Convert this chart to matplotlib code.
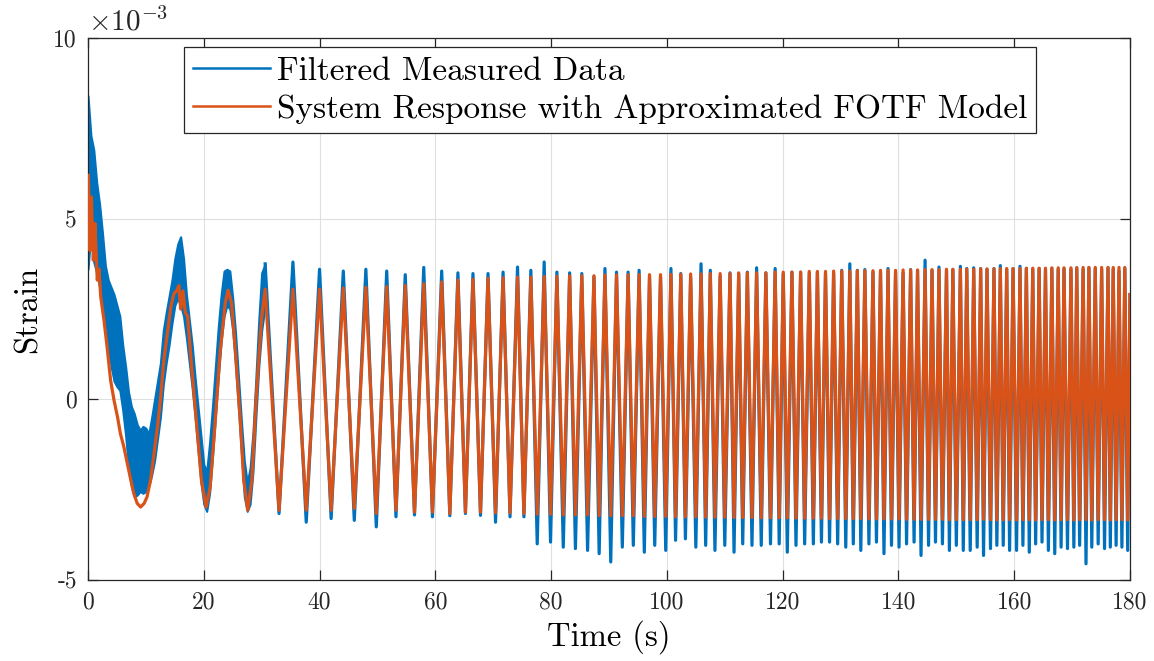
import matplotlib
matplotlib.use("Agg")
import matplotlib.pyplot as plt
import numpy as np

# ---------------- data (strain in units of 1e-3) ----------------
# Early part of the model response (read point by point)
model_early_t = [0.06, 0.35, 0.58, 0.92, 1.2, 1.6, 1.9, 2.2, 2.76, 3.3,
                 3.9, 4.5, 5.1, 5.6, 6.2, 6.8, 7.4, 7.9, 8.5, 9.1,
                 9.7, 10.2, 10.8, 11.4, 12.0, 12.55, 13.1, 13.7, 14.3, 14.85,
                 15.3, 15.7, 16.0, 16.4, 16.8, 17.2, 17.9, 18.8, 19.6, 20.4,
                 21.1, 21.9, 22.8, 23.7, 24.2, 24.8, 25.4, 26.3, 26.9, 27.6,
                 28.3, 29.1, 30.0]
model_early_v = [6.2, 4.12, 5.6, 3.85, 4.87, 3.3, 3.6, 2.83, 2.19, 1.45,
                 0.53, -0.03, -0.49, -0.95, -1.32, -1.78, -2.24, -2.6, -2.88, -2.98,
                 -2.88, -2.7, -2.24, -1.5, -0.77, 0.06, 1.08, 1.82, 2.55, 2.93,
                 3.0, 3.15, 2.5, 3.0, 2.4, 2.3, 0.9, -0.77, -2.24, -2.98,
                 -2.43, -0.77, 1.27, 2.66, 3.02, 2.66, 1.45, -0.58, -2.24, -3.07,
                 -2.24, 0.17, 2.28]

# Early part of the measured data: noisy band (upper / lower edge)
band_t = [0.0, 0.5, 1.0, 1.5, 2.0, 2.5, 3.0, 3.5, 4.0, 4.5,
          5.0, 5.5, 6.0, 6.5, 7.0, 7.5, 8.0, 8.5, 9.0, 9.5,
          10.0, 10.5, 11.0, 11.5, 12.0, 12.5, 13.0, 13.5, 14.0, 14.5,
          15.0, 15.5, 16.0, 16.5, 17.0, 17.5, 18.0, 18.5, 19.0, 19.5,
          20.0, 20.5, 21.0, 21.5, 22.0, 22.5, 23.0, 23.5, 24.0, 24.5,
          25.0, 25.5, 26.0, 26.5, 27.0, 27.5, 28.0, 28.5, 29.0, 29.5,
          30.0, 30.6]
band_hi = [8.4, 7.3, 6.9, 6.0, 5.4, 4.6, 3.7, 3.3, 3.1, 2.9,
           2.6, 2.3, 1.5, 0.9, 0.2, -0.2, -0.4, -0.7, -0.85, -0.75,
           -0.8, -0.95, -0.5, 0.0, 0.5, 1.0, 1.9, 2.4, 2.85, 3.3,
           3.9, 4.3, 4.5, 3.9, 2.9, 2.2, 1.5, 0.6, -0.2, -1.0,
           -1.8, -2.0, -1.2, -0.2, 0.9, 2.0, 2.9, 3.55, 3.6, 3.55,
           2.8, 1.8, 0.6, -0.6, -1.7, -2.3, -1.9, -0.9, 0.6, 2.2,
           3.5, 3.75]
band_lo = [3.6, 4.6, 3.8, 3.5, 3.1, 2.6, 2.0, 1.4, 0.9, 0.5,
           0.35, 0.25, -0.3, -1.0, -1.9, -2.4, -2.7, -2.65, -2.55, -2.6,
           -2.55, -2.4, -2.1, -1.7, -1.1, -0.5, 0.4, 1.0, 1.5, 2.1,
           2.6, 2.8, 2.6, 2.3, 1.7, 1.0, 0.3, -0.5, -1.4, -2.3,
           -2.9, -3.1, -2.6, -1.6, -0.5, 0.6, 1.6, 2.3, 2.6, 2.5,
           1.9, 0.9, -0.3, -1.5, -2.7, -3.1, -2.9, -2.0, -0.5, 0.9,
           1.9, 2.6]

# Peak / trough times after 30 s (shared by both signals)
peak_t = [30.6, 35.4, 40.0, 44.1, 48.0, 51.6, 54.8, 58.0, 61.1, 63.9,
          66.5, 69.1, 71.7, 74.2, 76.5, 78.8, 81.0, 83.2, 85.3, 87.4,
          89.3, 91.3, 93.3, 95.2, 97.0, 98.9, 100.7, 102.4, 104.1, 105.9,
          107.5, 109.2, 110.9, 112.4, 113.9, 115.5, 117.1, 118.7, 120.1, 121.6,
          123.1, 124.6, 126.0, 127.4, 128.8, 130.2, 131.6, 132.9, 134.2, 135.6,
          136.9, 138.2, 139.5, 140.8, 142.1, 143.3, 144.6, 145.8, 147.0, 148.3,
          149.4, 150.7, 151.8, 153.0, 154.2, 155.3, 156.5, 157.6, 158.7, 159.8,
          161.0, 162.1, 163.2, 164.3, 165.4, 166.5, 167.6, 168.6, 169.8, 170.8,
          171.9, 172.9, 174.0, 175.1, 176.2, 177.1, 178.1, 179.1]
trough_t = [33.0, 37.7, 42.0, 46.0, 49.8, 53.2, 56.4, 59.5, 62.5, 65.2,
            67.8, 70.4, 72.9, 75.3, 77.6, 79.9, 82.1, 84.2, 86.3, 88.3,
            90.3, 92.3, 94.2, 96.1, 97.9, 99.8, 101.5, 103.2, 105.0, 106.7,
            108.3, 110.0, 111.6, 113.1, 114.7, 116.3, 117.9, 119.4, 120.8, 122.3,
            123.8, 125.3, 126.7, 128.1, 129.5, 130.9, 132.2, 133.5, 134.9, 136.2,
            137.5, 138.8, 140.1, 141.4, 142.7, 143.9, 145.2, 146.4, 147.6, 148.8,
            150.0, 151.2, 152.4, 153.6, 154.7, 155.9, 157.0, 158.1, 159.2, 160.4,
            161.5, 162.6, 163.7, 164.8, 165.9, 167.0, 168.1, 169.2, 170.3, 171.3,
            172.4, 173.4, 174.5, 175.6, 176.6, 177.6, 178.6, 179.6]

meas_peak_v = [3.75, 3.8, 3.6, 3.55, 3.6, 3.55, 3.45, 3.65, 3.55, 3.5,
               3.48, 3.48, 3.52, 3.66, 3.57, 3.80, 3.52, 3.5, 3.48, 3.39,
               3.62, 3.52, 3.52, 3.57, 3.39, 3.39, 3.62, 3.48, 3.39, 3.75,
               3.57, 3.39, 3.5, 3.48, 3.52, 3.64, 3.5, 3.62, 3.46, 3.52,
               3.52, 3.5, 3.52, 3.48, 3.5, 3.57, 3.75, 3.57, 3.59, 3.52,
               3.52, 3.62, 3.52, 3.5, 3.59, 3.57, 3.85, 3.57, 3.66, 3.57,
               3.59, 3.68, 3.62, 3.64, 3.62, 3.6, 3.62, 3.7, 3.6, 3.62,
               3.68, 3.62, 3.6, 3.62, 3.6, 3.62, 3.6, 3.62, 3.6, 3.64,
               3.6, 3.64, 3.62, 3.6, 3.64, 3.6, 3.55, 3.62]
meas_trough_v = [-3.16, -3.4, -3.3, -3.35, -3.53, -3.25, -3.2, -3.25, -3.22, -3.16,
                 -3.21, -3.4, -3.25, -3.25, -4.0, -3.95, -4.09, -4.13, -4.18, -4.27,
                 -4.5, -4.09, -4.04, -4.23, -4.04, -4.18, -3.9, -3.86, -4.09, -4.04,
                 -4.18, -4.04, -4.23, -4.0, -4.04, -4.04, -4.0, -4.0, -4.23, -4.04,
                 -4.0, -4.0, -3.95, -3.95, -4.0, -4.09, -4.0, -4.18, -4.0, -3.95,
                 -4.27, -4.04, -4.09, -4.0, -3.95, -4.32, -4.04, -3.95, -4.0, -4.18,
                 -4.04, -4.18, -4.18, -4.09, -4.32, -4.13, -4.04, -4.04, -4.18, -4.18,
                 -4.04, -4.23, -4.0, -3.95, -4.18, -4.27, -4.09, -4.13, -4.09, -4.04,
                 -4.55, -4.09, -4.0, -4.13, -4.09, -4.04, -4.09, -4.18]

model_peak_v = [3.05, 3.05, 3.05, 3.08, 3.1, 3.12, 3.15, 3.2, 3.25, 3.3,
                3.32, 3.35, 3.36, 3.38, 3.38, 3.4, 3.4, 3.42, 3.42, 3.42,
                3.44, 3.44, 3.45, 3.45, 3.45, 3.45, 3.46, 3.46, 3.47, 3.47,
                3.48, 3.48, 3.48, 3.5, 3.5, 3.5, 3.5, 3.52, 3.52, 3.52,
                3.52, 3.54, 3.54, 3.54, 3.55, 3.55, 3.55, 3.56, 3.56, 3.56,
                3.57, 3.57, 3.57, 3.58, 3.58, 3.58, 3.59, 3.59, 3.59, 3.6,
                3.6, 3.6, 3.6, 3.6, 3.61, 3.61, 3.61, 3.62, 3.62, 3.62,
                3.62, 3.63, 3.63, 3.63, 3.63, 3.64, 3.64, 3.64, 3.64, 3.64,
                3.65, 3.65, 3.65, 3.65, 3.65, 3.65, 3.65, 3.65]
model_trough_v = [-3.07, -3.07, -3.07, -3.02, -3.16, -3.07, -3.12, -3.12, -3.16, -3.12,
                  -3.12, -3.14, -3.14, -3.16, -3.18, -3.18, -3.2, -3.2, -3.2, -3.22,
                  -3.22, -3.22, -3.22, -3.24, -3.24, -3.24, -3.25, -3.25, -3.25, -3.26,
                  -3.26, -3.26, -3.27, -3.27, -3.27, -3.28, -3.28, -3.28, -3.28, -3.29,
                  -3.29, -3.29, -3.29, -3.3, -3.3, -3.3, -3.3, -3.3, -3.31, -3.31,
                  -3.31, -3.31, -3.31, -3.32, -3.32, -3.32, -3.32, -3.32, -3.32, -3.33,
                  -3.33, -3.33, -3.33, -3.33, -3.32, -3.33, -3.34, -3.33, -3.33, -3.34,
                  -3.33, -3.33, -3.34, -3.33, -3.33, -3.34, -3.33, -3.33, -3.34, -3.33,
                  -3.33, -3.34, -3.33, -3.33, -3.34, -3.33, -3.33, -3.34]

end_t = [180.0]
end_v = [2.9]

xticks = [0, 20, 40, 60, 80, 100, 120, 140, 160, 180]
yticks = [-5, 0, 5, 10]
ytick_labels = ["-5", "0", "5", "10"]

labels = ["Filtered Measured Data", "System Response with Approximated FOTF Model"]
colors = ["#0072BD", "#D95319"]

assert len(model_early_t) == len(model_early_v)
assert len(band_t) == len(band_hi) == len(band_lo)
assert len(peak_t) == len(meas_peak_v) == len(model_peak_v)
assert len(trough_t) == len(meas_trough_v) == len(model_trough_v)


def merge(t1, v1, t2, v2):
    t = np.concatenate([t1, t2])
    v = np.concatenate([v1, v2])
    order = np.argsort(t, kind="stable")
    return t[order], v[order]


pt, mv = merge(peak_t, meas_peak_v, trough_t, meas_trough_v)
meas_t = np.concatenate([pt, end_t])
meas_v = np.concatenate([mv, end_v])
pt2, ov = merge(peak_t, model_peak_v, trough_t, model_trough_v)
model_t = np.concatenate([model_early_t, pt2, end_t])
model_v = np.concatenate([model_early_v, ov, end_v])

# ---------------- figure ----------------
plt.rcParams["font.family"] = ["cmr10", "DejaVu Serif"]
plt.rcParams["mathtext.fontset"] = "cm"
plt.rcParams["axes.unicode_minus"] = False

fig = plt.figure(figsize=(11.54, 6.61), dpi=100)
ax = fig.add_axes([88 / 1154, 1 - 580 / 661, (1130 - 88) / 1154, (580 - 38) / 661])

LW = 2.3
ax.fill_between(band_t, band_lo, band_hi, color=colors[0], lw=1.5, ec=colors[0], zorder=2)
ax.plot(meas_t, meas_v, color=colors[0], lw=LW, label=labels[0], zorder=2,
        solid_joinstyle="round")
ax.plot(model_t, model_v, color=colors[1], lw=LW, label=labels[1], zorder=3,
        solid_joinstyle="round")

ax.set_xlim(0, 180)
ax.set_ylim(-5, 10)
ax.set_xticks(xticks)
ax.set_xticklabels([str(x) for x in xticks])
ax.set_yticks(yticks)
ax.set_yticklabels(ytick_labels)

ax.grid(True, color="#dfdfdf", lw=0.8)
ax.set_axisbelow(True)
for s in ax.spines.values():
    s.set_color("#262626")
    s.set_linewidth(0.9)
ax.tick_params(direction="in", length=7, width=0.9, colors="#262626",
               top=True, right=True, labelsize=17, pad=8)

ax.set_xlabel("Time (s)", fontsize=23.5, labelpad=5)
ax.set_ylabel("Strain", fontsize=23.5, labelpad=8)
ax.text(0.0, 1.002, r"$\times10^{-3}$", transform=ax.transAxes, fontsize=21,
        ha="left", va="bottom", color="#262626")

leg = ax.legend(loc="upper left", bbox_to_anchor=(0.0921, 0.9834), borderaxespad=0,
                fontsize=24, handlelength=2.3, handletextpad=0.2, labelspacing=0.25,
                borderpad=0.28, fancybox=False, framealpha=1, edgecolor="#262626")
leg.get_frame().set_linewidth(0.9)
for h in leg.get_lines():
    h.set_linewidth(1.8)

fig.savefig("out.png", dpi=100)
